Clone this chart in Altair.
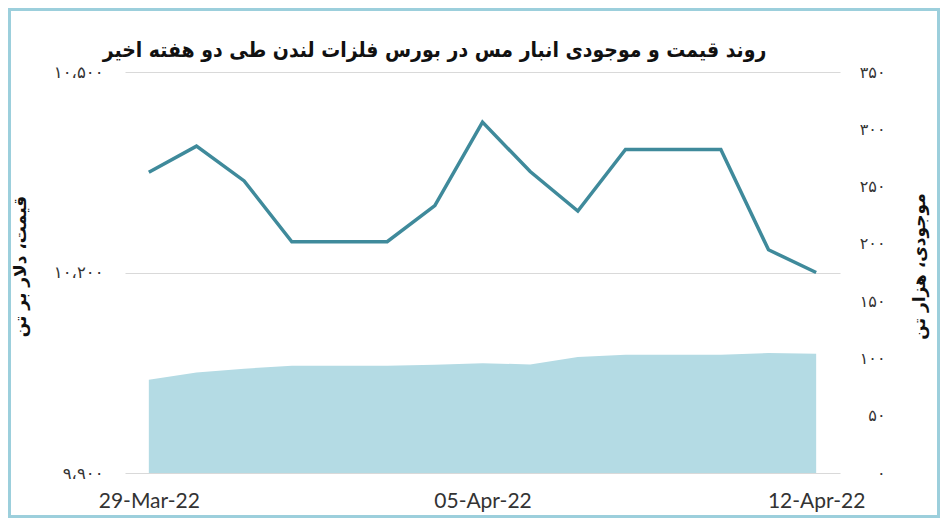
import altair as alt
import pandas as pd

# ---- data ----
DATES = ["2022-03-29", "2022-03-30", "2022-03-31", "2022-04-01", "2022-04-02",
         "2022-04-03", "2022-04-04", "2022-04-05", "2022-04-06", "2022-04-07",
         "2022-04-08", "2022-04-09", "2022-04-10", "2022-04-11", "2022-04-12"]
PRICE = [10350, 10389, 10337, 10246, 10246, 10246, 10300, 10425, 10351, 10292,
         10384, 10384, 10384, 10234, 10200]          # USD / tonne (left axis)
STOCK = [81.4, 87.8, 91.0, 93.7, 93.7, 93.7, 94.5, 95.8, 94.8, 101.2,
         103.3, 103.3, 103.3, 104.7, 104.1]          # thousand tonnes (right axis)

PRICE_TICKS = [9900, 10200, 10500]
STOCK_TICKS = [0, 50, 100, 150, 200, 250, 300, 350]
X_TICKS = ["2022-03-29", "2022-04-05", "2022-04-12"]

TITLE = "روند قیمت و موجودی انبار مس در بورس فلزات لندن طی دو هفته اخیر"
LEFT_TITLE = "قیمت، دلار بر تن"
RIGHT_TITLE = "موجودی، هزار تن"

df = pd.DataFrame({
    "date": [d + "T00:00:00" for d in DATES],
    "price": PRICE,
    "stock": STOCK,
})


def persian_label(fmt):
    s = f"format(datum.value, '{fmt}')"
    for i, d in enumerate("۰۱۲۳۴۵۶۷۸۹"):
        s = f"join(split({s}, '{i}'), '{d}')"
    s = f"join(split({s}, ','), '،')"
    return s


def dt(s, hours=0):
    y, m, d = (int(v) for v in s.split("-"))
    return alt.DateTime(year=y, month=m, date=d, hours=hours)


W, H = 715, 401
PL, PT, PR, PB = 117, 64, 100, 45

x_enc = alt.X(
    "date:T",
    scale=alt.Scale(domain=[dt("2022-03-28", 12), dt("2022-04-12", 12)]),
    axis=alt.Axis(
        values=[dt(v) for v in X_TICKS], format="%d-%b-%y", title=None,
        domain=False, ticks=False, grid=False, labelFont="Lato",
        labelFontSize=21, labelColor="#333333", labelPadding=17,
    ),
)

area = alt.Chart(df).mark_area(color="#b4dbe4", opacity=1).encode(
    x=x_enc,
    y=alt.Y(
        "stock:Q",
        scale=alt.Scale(domain=[0, 350], nice=False),
        axis=alt.Axis(
            orient="right", values=STOCK_TICKS, labelExpr=persian_label("d"),
            domain=False, ticks=False, grid=False, labelFont="DejaVu Sans",
            labelFontSize=16, labelColor="#333333", labelAlign="right",
            labelPadding=45, title=RIGHT_TITLE, titleFont="DejaVu Sans",
            titleFontSize=17, titleFontWeight="bold", titleColor="#111111",
            titleAngle=-90, titleX=79, titleY=194, titleAlign="center",
            titleBaseline="middle",
        ),
    ),
)

line = alt.Chart(df).mark_line(color="#3f8a9b", strokeWidth=3.5).encode(
    x=x_enc,
    y=alt.Y(
        "price:Q",
        scale=alt.Scale(domain=[9900, 10500], nice=False, zero=False),
        axis=alt.Axis(
            orient="left", values=PRICE_TICKS, labelExpr=persian_label(","),
            domain=False, ticks=False, grid=True, gridColor="#d9d9d9",
            gridWidth=1, labelFont="DejaVu Sans", labelFontSize=16.5,
            labelColor="#333333", labelPadding=22, title=LEFT_TITLE,
            titleFont="DejaVu Sans", titleFontSize=17, titleFontWeight="bold",
            titleColor="#111111", titleAngle=-90, titleX=-105, titleY=194,
            titleAlign="center", titleBaseline="middle",
        ),
    ),
)

frame = alt.Chart(alt.Data(values=[{}])).mark_rect(
    filled=False, stroke="#9ccfdc", strokeWidth=3
).encode(
    x=alt.value(-PL + 1.5), x2=alt.value(W + PR - 1.5),
    y=alt.value(-PT + 1.5), y2=alt.value(H + PB - 1.5),
)

chart = alt.layer(area, line, frame).resolve_scale(y="independent").properties(
    width=W, height=H,
    autosize=alt.AutoSizeParams(type="none"),
    padding={"left": PL, "top": PT, "right": PR, "bottom": PB},
    title=alt.TitleParams(
        TITLE, font="DejaVu Sans Condensed", fontSize=21, fontWeight="bold",
        color="#111111", anchor="middle", frame="group", dx=-48, offset=0,
        dy=70, baseline="alphabetic",
    ),
).configure_view(stroke=None)

chart.save("out.html", embed_options={"renderer": "svg", "actions": False})
